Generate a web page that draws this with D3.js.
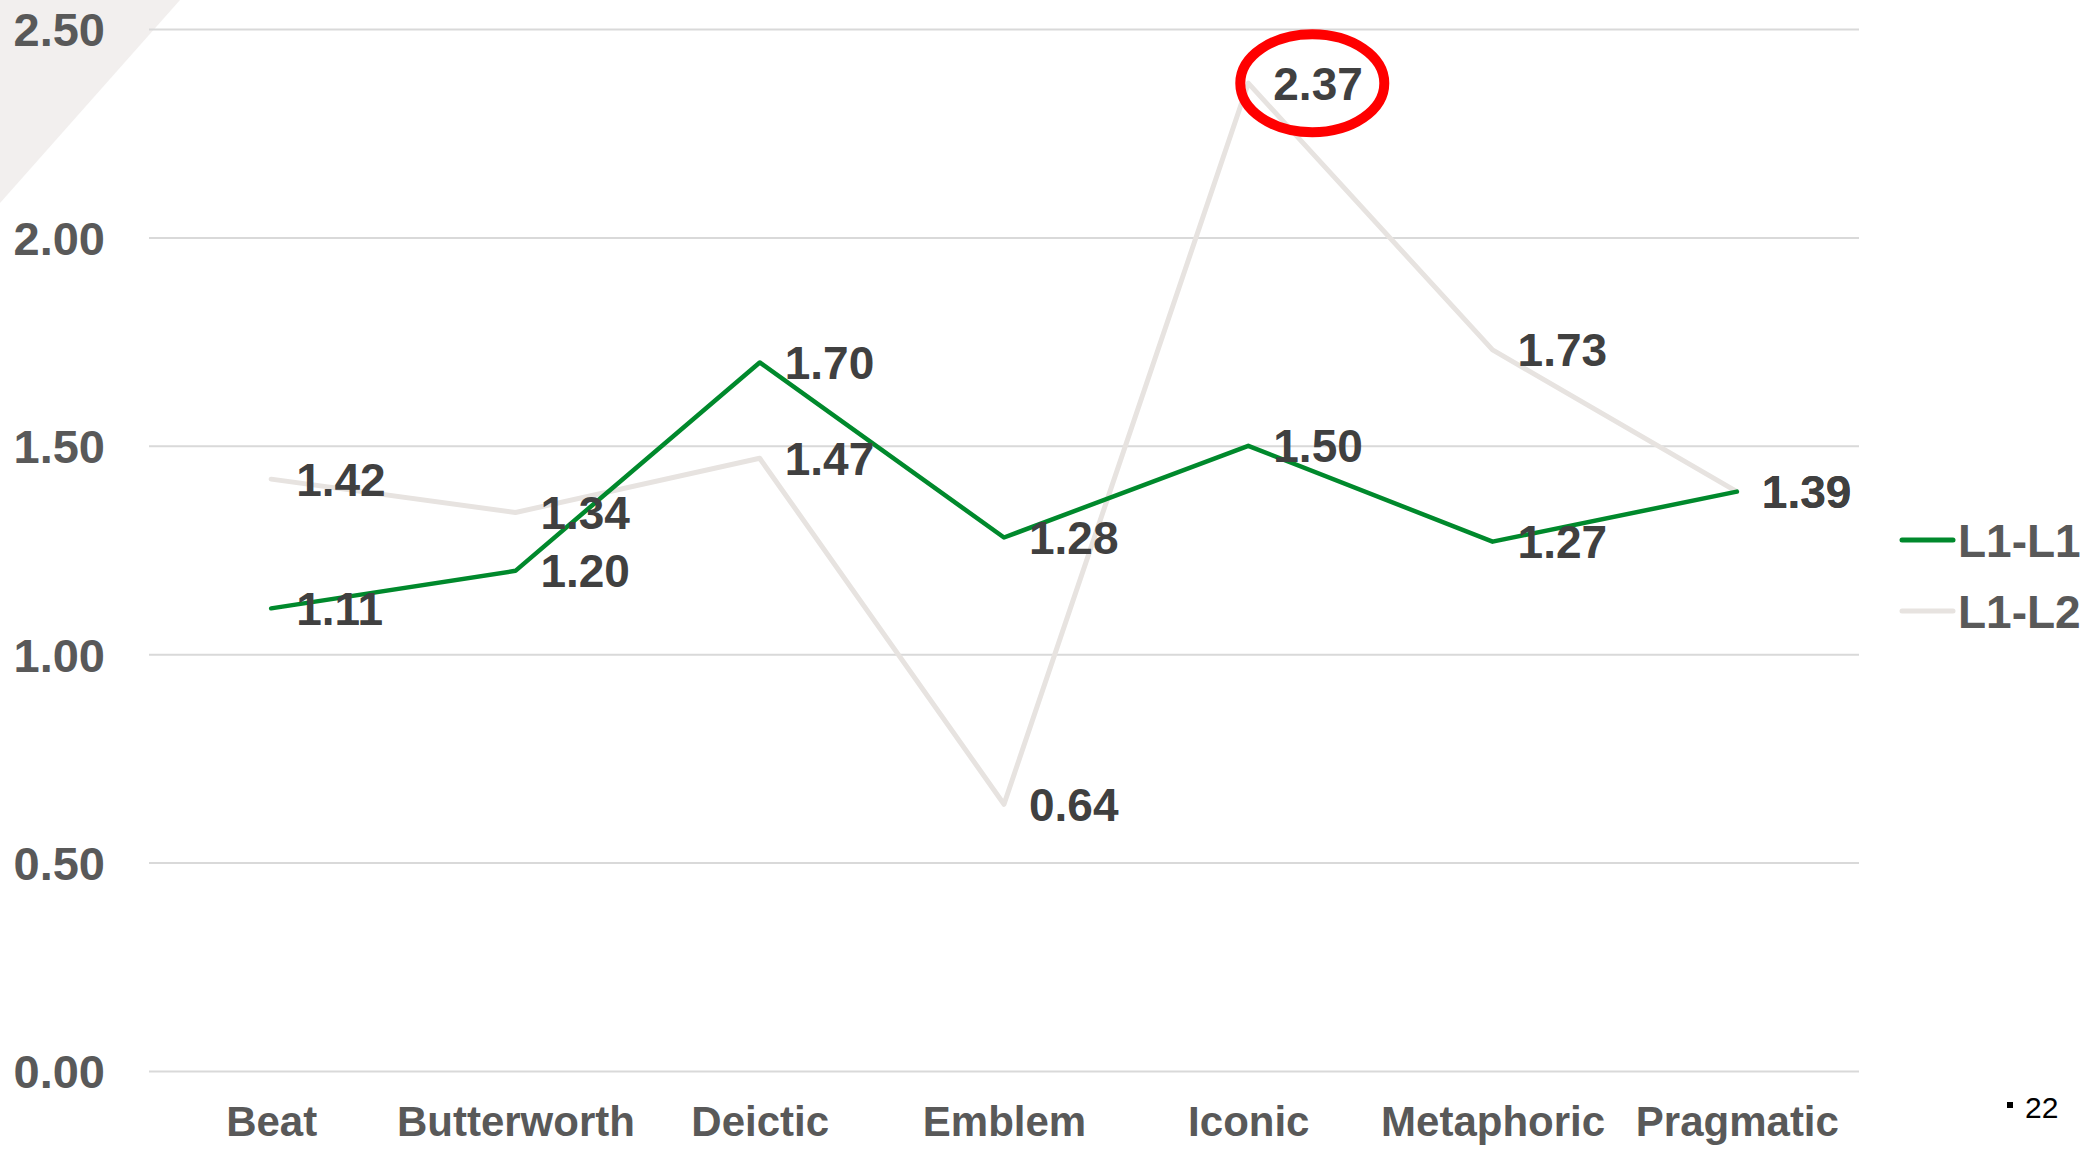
<!DOCTYPE html>
<html>
<head>
<meta charset="utf-8">
<script src="https://cdn.jsdelivr.net/npm/d3@7"></script>
<style>
  html, body { margin: 0; padding: 0; background: #ffffff; }
  svg { display: block; }
</style>
</head>
<body>
<script>
// Gesture-type ratios for two speaker pairings
const categories = ["Beat", "Butterworth", "Deictic", "Emblem", "Iconic", "Metaphoric", "Pragmatic"];
const seriesNames = ["L1-L1", "L1-L2"];
const l1l1Values = [1.11, 1.20, 1.70, 1.28, 1.50, 1.27, 1.39];
const l1l2Values = [1.42, 1.34, 1.47, 0.64, 2.37, 1.73, 1.39];
const yTicks = [0, 0.5, 1.0, 1.5, 2.0, 2.5];
const highlightIndex = 4; // Iconic, L1-L2
const pageNumber = "22";

const W = 2092, H = 1149;
const svg = d3.select("body").append("svg").attr("width", W).attr("height", H);

// decorative corner
svg.append("polygon").attr("points", "0,0 180,0 0,203").attr("fill", "#F2EFEE");

const x = d3.scalePoint().domain(categories).range([149, 1859]).padding(0.5);
const y = d3.scaleLinear().domain([0, 2.5]).range([1071, 29]);

const font = "'Liberation Sans', Arial, sans-serif";

// gridlines
const yAxis = d3.axisLeft(y).tickValues(yTicks).tickSize(-(1859 - 149)).tickFormat(d3.format(".2f")).tickPadding(44);
const gy = svg.append("g").attr("transform", "translate(149,0)").call(yAxis);
gy.select(".domain").remove();
gy.selectAll(".tick line").attr("stroke", "#D9D9D9").attr("stroke-width", 2);
gy.selectAll(".tick text")
  .attr("font-family", font).attr("font-size", 47).attr("font-weight", "bold")
  .attr("fill", "#595959").attr("dy", "0.36em");

// category axis
const xAxis = d3.axisBottom(x).tickSize(0).tickPadding(0);
const gx = svg.append("g").attr("transform", "translate(0,1121)").call(xAxis);
gx.select(".domain").remove();
gx.selectAll(".tick text")
  .attr("font-family", font).attr("font-size", 42).attr("font-weight", "bold")
  .attr("fill", "#595959").attr("dy", "0.36em");

const series = [
  { name: "L1-L2", values: l1l2Values, color: "#E7E3E0", width: 5 },
  { name: "L1-L1", values: l1l1Values, color: "#00892C", width: 4.5 }
];

// lines
const line = d3.line().x((d, i) => x(categories[i])).y(d => y(d));
series.forEach(s => {
  svg.append("path").datum(s.values)
    .attr("d", line)
    .attr("fill", "none")
    .attr("stroke", s.color)
    .attr("stroke-width", s.width)
    .attr("stroke-linejoin", "round")
    .attr("stroke-linecap", "round");
});

// data labels sit above the lines
const labelLayer = svg.append("g");
series.forEach(s => {
  labelLayer.selectAll(null).data(s.values).join("text")
    .attr("x", (d, i) => x(categories[i]) + 25)
    .attr("y", d => y(d))
    .attr("dy", "0.36em")
    .attr("font-family", font).attr("font-size", 46).attr("font-weight", "bold")
    .attr("fill", "#404040")
    .text(d => d.toFixed(2));
});

// highlight ring around the Iconic L1-L2 value
svg.append("ellipse")
  .attr("cx", x(categories[highlightIndex]) + 64)
  .attr("cy", y(l1l2Values[highlightIndex]))
  .attr("rx", 72).attr("ry", 49)
  .attr("fill", "none").attr("stroke", "#FF0000").attr("stroke-width", 10);

// legend
const legend = svg.append("g");
[{ name: "L1-L1", color: "#00892C", yy: 540 }, { name: "L1-L2", color: "#E7E3E0", yy: 611 }].forEach(l => {
  legend.append("line").attr("x1", 1902).attr("x2", 1953).attr("y1", l.yy).attr("y2", l.yy)
    .attr("stroke", l.color).attr("stroke-width", 5).attr("stroke-linecap", "round");
  legend.append("text").attr("x", 1958).attr("y", l.yy).attr("dy", "0.36em")
    .attr("font-family", font).attr("font-size", 46).attr("font-weight", "bold")
    .attr("fill", "#595959").text(l.name);
});

// page number
svg.append("rect").attr("x", 2007).attr("y", 1102).attr("width", 6).attr("height", 6).attr("fill", "#000");
svg.append("text").attr("x", 2025).attr("y", 1107).attr("dy", "0.36em")
  .attr("font-family", font).attr("font-size", 30).attr("fill", "#000").text(pageNumber);
</script>
</body>
</html>
